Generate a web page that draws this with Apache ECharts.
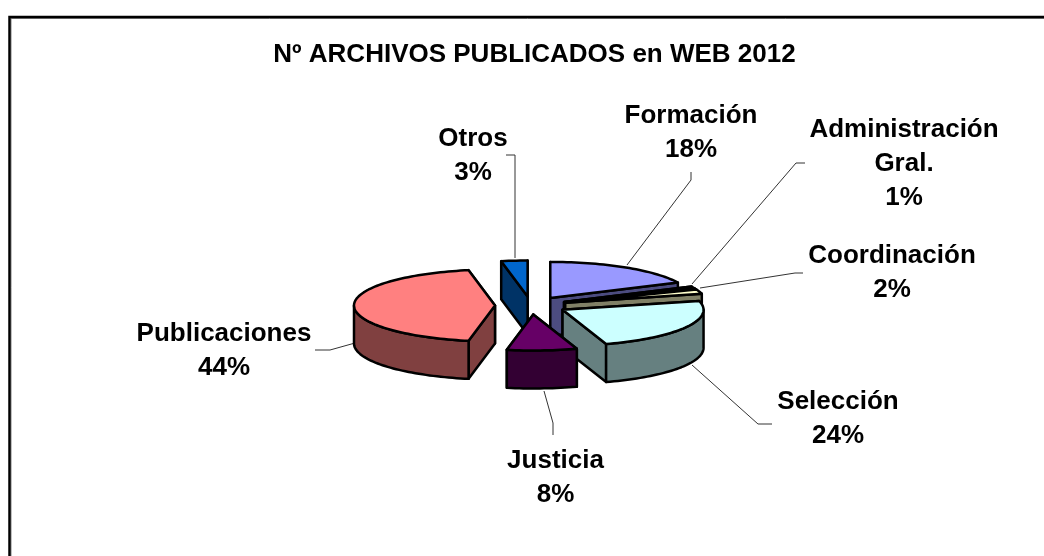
<!DOCTYPE html>
<html>
<head>
<meta charset="utf-8">
<style>html,body{margin:0;padding:0;background:#fff}#c{width:1044px;height:556px}</style>
<script src="https://cdn.jsdelivr.net/npm/echarts@6/dist/echarts.min.js"></script>
</head>
<body>
<div id="c"></div>
<script>
const chartTitle = 'Nº ARCHIVOS PUBLICADOS en WEB 2012';
const categories = ['Formación', 'Administración\nGral.', 'Coordinación', 'Selección', 'Justicia', 'Publicaciones', 'Otros'];
const shares = [18, 1, 2, 24, 8, 44, 3];
const topColors = ['#9999FF', '#993366', '#FFFFCC', '#CCFFFF', '#660066', '#FF8080', '#0066CC'];
const sideColors = ['#4C4C80', '#4C1A33', '#808066', '#668080', '#330033', '#804040', '#003366'];
// painter order, back to front
const drawOrder = [6, 0, 1, 2, 3, 5, 4];
// label anchor (centre x, first-line centre y) and leader polyline, by category
const labelPos = [[691,116],[904,130],[892,256],[838,402],[555.5,461],[224,334],[473,139]];
const leaders = [
  [[691,172],[691,180],[627,265]],
  [[805,163],[796,163],[692,284]],
  [[803,273],[795,273],[700,288]],
  [[772,424],[758,424],[692,365]],
  [[553,435],[553,423],[544,391]],
  [[315,350],[330,350],[355,343]],
  [[506,155],[515,155],[515,258]]
];
const pie = {cx: 531, cy: 305.5, rx: 141, ry: 36, depth: 38, explode: 36, tilt: 0.25};

const total = shares.reduce((a, b) => a + b, 0);
let acc = 0;
const spans = shares.map(v => { const s = acc; acc += v; return [s / total * 2 * Math.PI, acc / total * 2 * Math.PI]; });

function sliceShapes(i) {
  const [a0, a1] = spans[i];
  const mid = (a0 + a1) / 2;
  const ax = pie.cx + pie.explode * Math.sin(mid);
  const ay = pie.cy - pie.explode * pie.tilt * Math.cos(mid);
  const rim = a => [ax + pie.rx * Math.sin(a), ay - pie.ry * Math.cos(a)];
  const arc = (s, e) => { const p = []; const n = Math.max(2, Math.ceil((e - s) / 0.03)); for (let k = 0; k <= n; k++) p.push(rim(s + (e - s) * k / n)); return p; };
  const down = p => [p[0], p[1] + pie.depth];
  const style = {stroke: '#000', lineWidth: 2.5, lineJoin: 'round'};
  const out = [];
  const wall = a => { const r = rim(a); return {y: r[1], pts: [[ax, ay], r, down(r), [ax, ay + pie.depth]]}; };
  const walls = [wall(a0), wall(a1)].sort((p, q) => p.y - q.y);
  const poly = (pts, fill) => ({type: 'polygon', shape: {points: pts}, style: Object.assign({fill}, style)});
  out.push(poly(walls[0].pts, sideColors[i]));
  out.push(poly(walls[1].pts, sideColors[i]));
  const fs = Math.max(a0, Math.PI / 2), fe = Math.min(a1, Math.PI * 1.5);
  if (fe > fs) {
    const top = arc(fs, fe);
    out.push(poly(top.concat(top.slice().reverse().map(down)), sideColors[i]));
  }
  out.push(poly([[ax, ay]].concat(arc(a0, a1)), topColors[i]));
  return out;
}

const chart = echarts.init(document.getElementById('c'), null, {renderer: 'canvas'});
chart.setOption({
  animation: false,
  backgroundColor: '#fff',
  title: {text: chartTitle, left: 529.5, top: 37, textAlign: 'center',
    textStyle: {fontFamily: 'Liberation Sans', fontWeight: 'bold', fontSize: 26, color: '#000'}},
  graphic: [
    {type: 'polyline', silent: true, z: 0, shape: {points: [[11, 556], [11, 18.5], [1044, 18.5]]},
      style: {fill: 'none', stroke: '#808080', lineWidth: 1}},
    {type: 'polyline', silent: true, z: 1, shape: {points: [[9.5, 556], [9.5, 17], [1044, 17]]},
      style: {fill: 'none', stroke: '#000', lineWidth: 2.5}}
  ],
  series: [
    {
      type: 'custom', coordinateSystem: 'none', silent: true, z: 2,
      data: drawOrder.map(i => ({name: categories[i], value: shares[i]})),
      renderItem: (params) => ({type: 'group', children: sliceShapes(drawOrder[params.dataIndex])})
    },
    {
      type: 'custom', coordinateSystem: 'none', silent: true, z: 1,
      data: categories.map((n, i) => ({name: n, value: shares[i]})),
      renderItem: (params) => ({type: 'polyline', shape: {points: leaders[params.dataIndex]},
        style: {fill: 'none', stroke: '#333', lineWidth: 1}})
    },
    {
      type: 'custom', coordinateSystem: 'none', silent: true, z: 3,
      data: categories.map((n, i) => ({name: n, value: shares[i]})),
      renderItem: (params) => {
        const i = params.dataIndex;
        return {type: 'text', x: labelPos[i][0], y: labelPos[i][1] - 17,
          style: {text: categories[i] + '\n' + shares[i] + '%', textAlign: 'center', textVerticalAlign: 'top',
            fontFamily: 'Liberation Sans', fontWeight: 'bold', fontSize: 26, lineHeight: 34, fill: '#000'}};
      }
    }
  ]
});
</script>
</body>
</html>
